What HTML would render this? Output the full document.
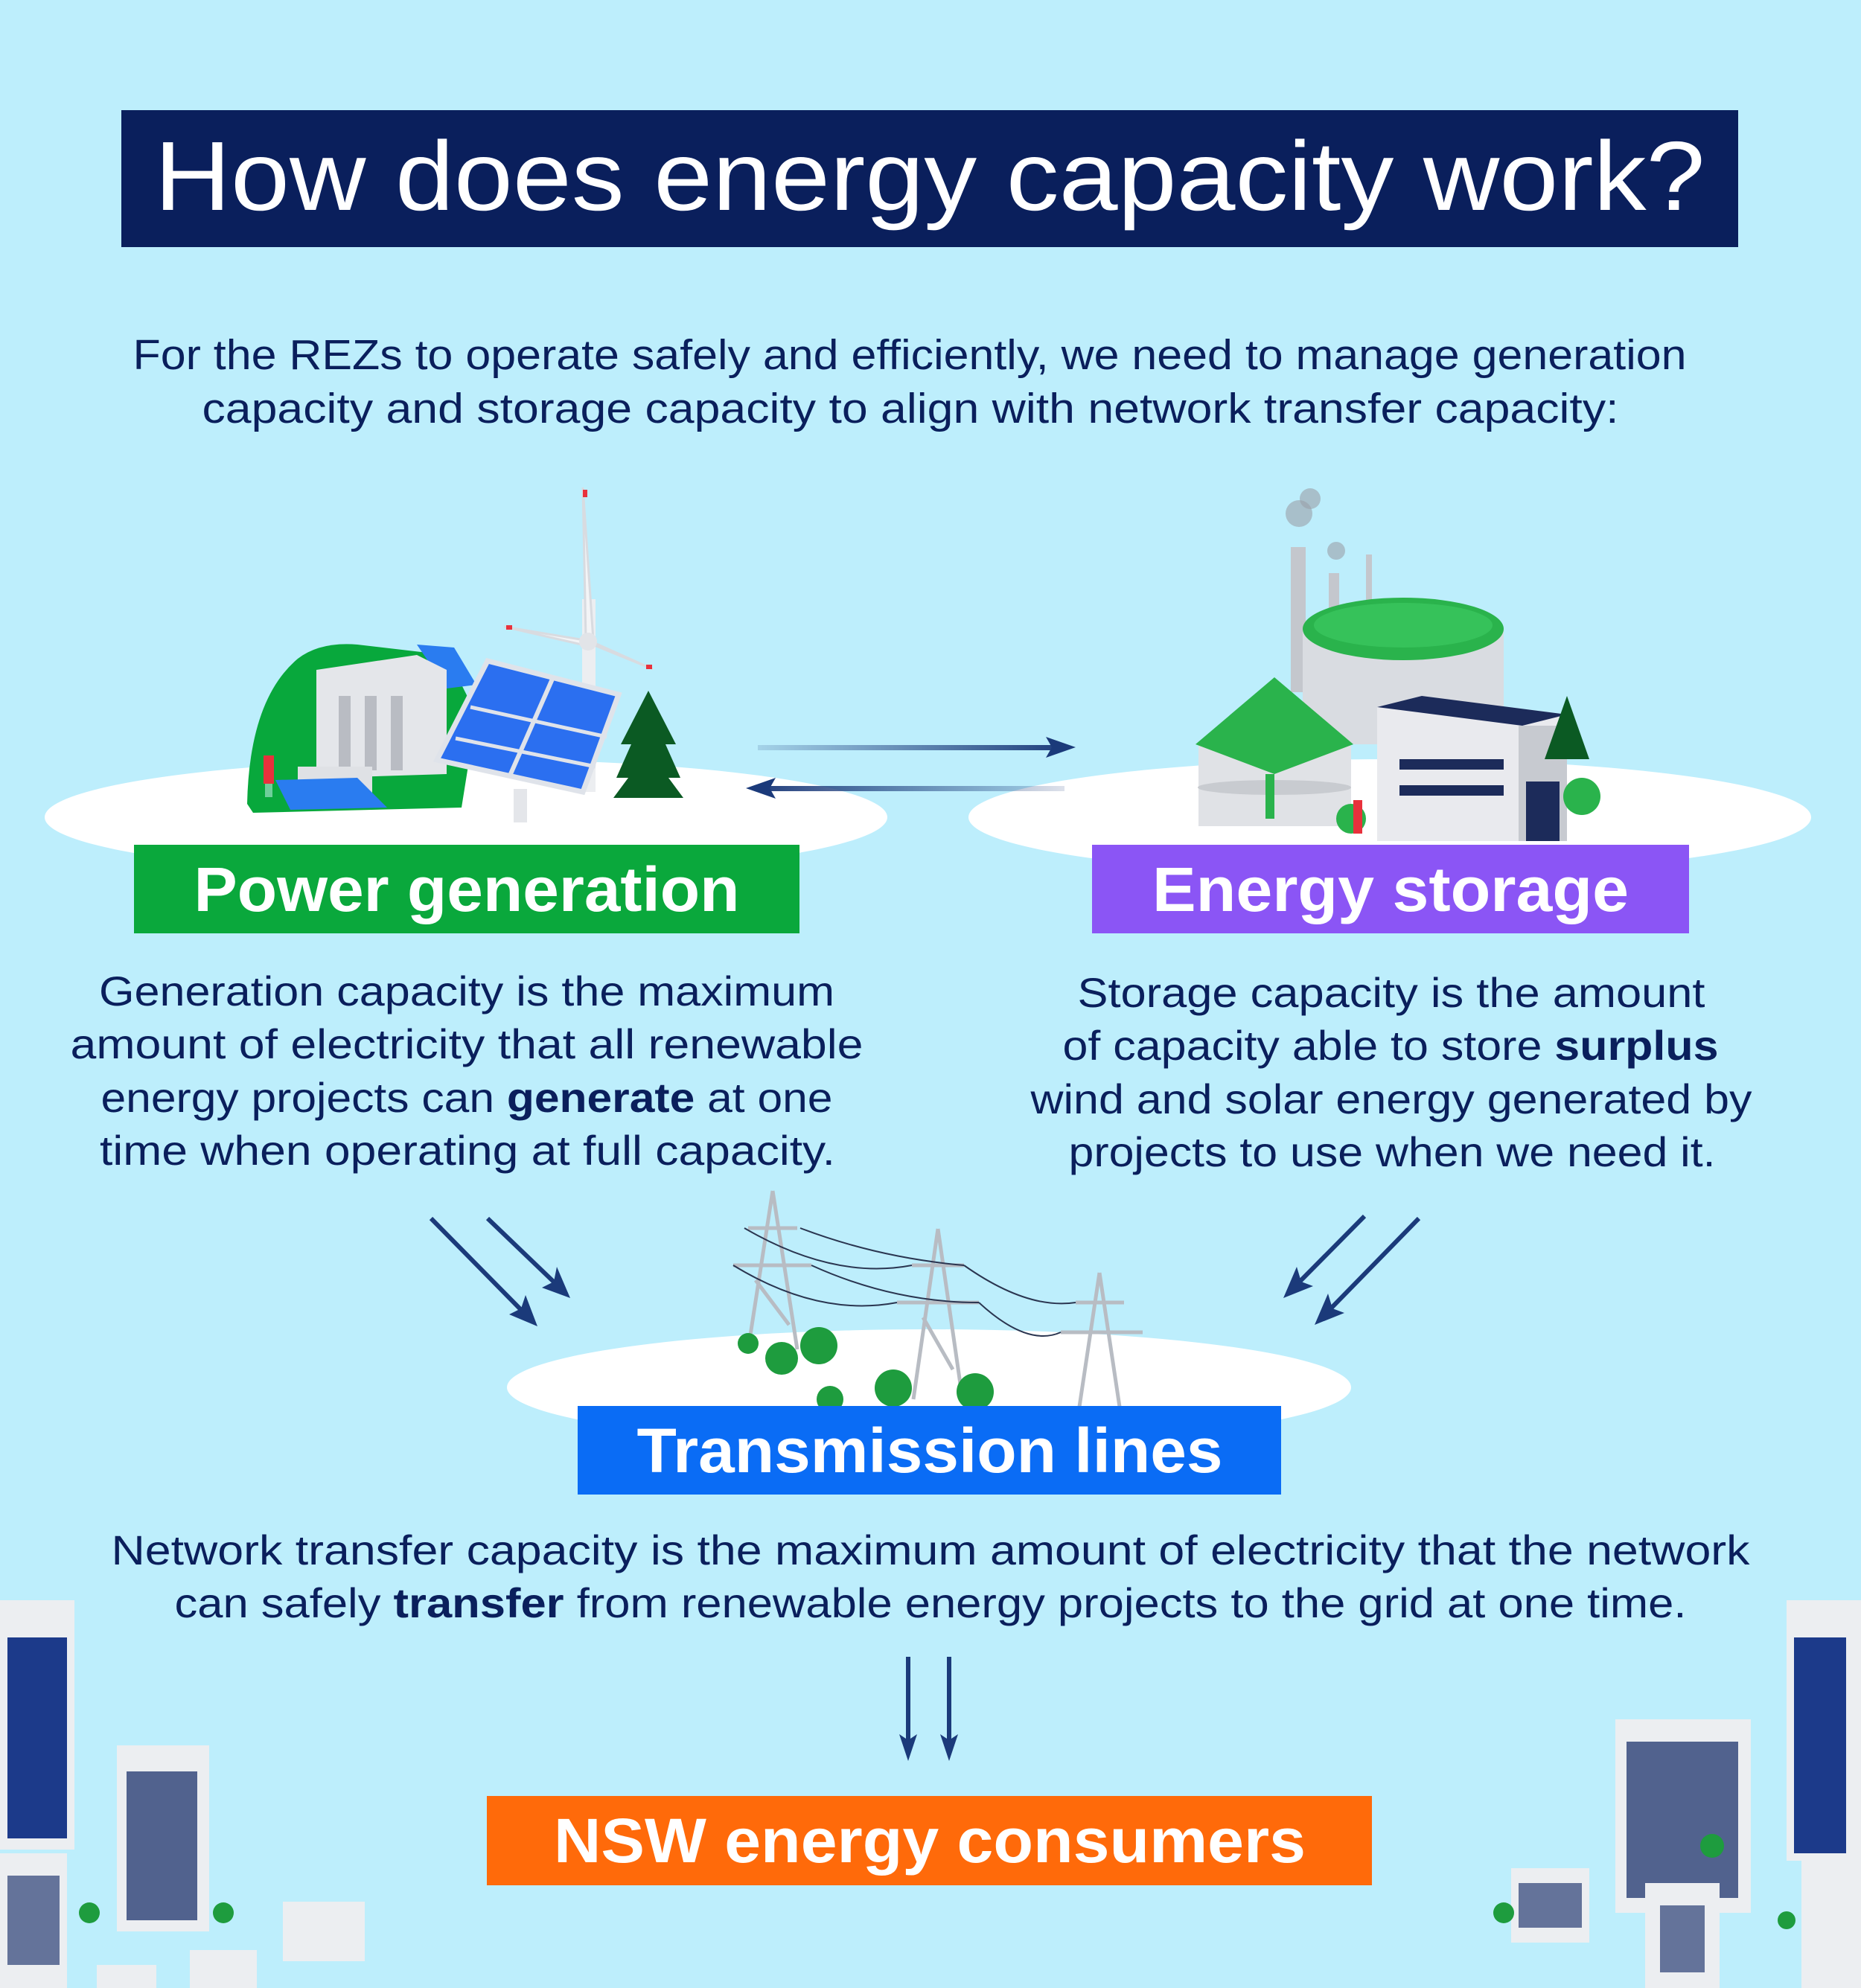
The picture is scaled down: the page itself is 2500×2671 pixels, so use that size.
<!DOCTYPE html>
<html><head><meta charset="utf-8"><style>
html,body{margin:0;padding:0;background:#bdeefc}
svg{display:block}
text{font-family:"Liberation Sans",sans-serif}
</style></head><body>
<svg width="2500" height="2671" viewBox="0 0 2500 2671" xmlns="http://www.w3.org/2000/svg">
<defs>
<linearGradient id="gr" gradientUnits="userSpaceOnUse" x1="1018" y1="0" x2="1440" y2="0"><stop offset="0" stop-color="#1b3a7a" stop-opacity="0.15"/><stop offset="1" stop-color="#1b3a7a"/></linearGradient>
<linearGradient id="gl" gradientUnits="userSpaceOnUse" x1="1430" y1="0" x2="1005" y2="0"><stop offset="0" stop-color="#1b3a7a" stop-opacity="0.15"/><stop offset="1" stop-color="#1b3a7a"/></linearGradient>
</defs>
<rect width="2500" height="2671" fill="#bdeefc"/>
<rect x="163" y="148" width="2172" height="184" fill="#0a1f5c"/>
<text x="1249" y="282" font-size="132" fill="#fff" text-anchor="middle" textLength="2083" lengthAdjust="spacingAndGlyphs">How does energy capacity work?</text>
<g font-size="57" fill="#0a1f5c" text-anchor="middle">
<text x="1222" y="496" textLength="2087" lengthAdjust="spacingAndGlyphs">For the REZs to operate safely and efficiently, we need to manage generation</text>
<text x="1223" y="568" textLength="1903" lengthAdjust="spacingAndGlyphs">capacity and storage capacity to align with network transfer capacity:</text>
</g>
<ellipse cx="626" cy="1098" rx="566" ry="78" fill="#fff"/>
<ellipse cx="1867" cy="1098" rx="566" ry="78" fill="#fff"/>
<ellipse cx="1248" cy="1864" rx="567" ry="78" fill="#fff"/>
<!-- power gen illustration -->
<path d="M332 1080 Q335 940 400 885 Q430 862 480 866 L600 880 L640 960 L620 1085 L340 1092 Z" fill="#08a83c"/>
<path d="M560 866 L610 870 L640 920 L600 925 Z" fill="#2a7cf0"/>
<path d="M425 900 L560 880 L600 900 L600 1040 L440 1045 L425 1035 Z" fill="#e4e6ea"/>
<rect x="455" y="935" width="16" height="100" fill="#b9bcc3"/><rect x="490" y="935" width="16" height="100" fill="#b9bcc3"/><rect x="525" y="935" width="16" height="100" fill="#b9bcc3"/>
<rect x="400" y="1030" width="100" height="40" fill="#dfe1e5"/>
<path d="M370 1048 L480 1045 L520 1085 L390 1088 Z" fill="#2a7cf0"/>
<rect x="354" y="1015" width="14" height="38" fill="#e8313c"/><rect x="356" y="1053" width="10" height="18" fill="#6ecf9a"/>
<line x1="791" y1="805" x2="791" y2="1064" stroke="#eceef1" stroke-width="18"/>
<path d="M787 860 L783 655 L797 860 Z M785 860 L677 842 L790 868 Z M790 860 L877 899 L796 866 Z" fill="#f3f4f6" stroke="#d8dbe0" stroke-width="3"/>
<circle cx="790" cy="862" r="12" fill="#e2e4e8"/>
<rect x="783" y="658" width="6" height="10" fill="#e8313c"/><rect x="680" y="840" width="8" height="6" fill="#e8313c"/><rect x="868" y="893" width="8" height="6" fill="#e8313c"/>
<polygon points="655,888 831,933 783,1064 587,1021" fill="#2b6ff0" stroke="#dfe3ea" stroke-width="7"/>
<line x1="743" y1="910" x2="685" y2="1042" stroke="#dfe3ea" stroke-width="6"/>
<line x1="632" y1="950" x2="815" y2="990" stroke="#dfe3ea" stroke-width="5"/>
<line x1="612" y1="992" x2="800" y2="1030" stroke="#dfe3ea" stroke-width="5"/>
<rect x="690" y="1060" width="18" height="45" fill="#e4e6ea"/>
<polygon points="871,928 908,1000 894,1000 914,1045 898,1045 918,1072 824,1072 844,1045 828,1045 848,1000 834,1000" fill="#0b5a23"/>
<!-- storage illustration -->
<rect x="1734" y="735" width="20" height="195" fill="#c4c7cd"/>
<rect x="1785" y="770" width="14" height="150" fill="#c4c7cd"/>
<rect x="1835" y="745" width="8" height="120" fill="#c4c7cd"/>
<circle cx="1745" cy="690" r="18" fill="#9aa0a8" opacity=".6"/><circle cx="1760" cy="670" r="14" fill="#9aa0a8" opacity=".6"/><circle cx="1795" cy="740" r="12" fill="#9aa0a8" opacity=".6"/>
<rect x="1750" y="845" width="270" height="155" fill="#d9dce1"/>
<ellipse cx="1885" cy="845" rx="135" ry="42" fill="#2ab34c"/>
<ellipse cx="1885" cy="840" rx="120" ry="30" fill="#36c25a"/>
<rect x="1610" y="1000" width="205" height="110" fill="#e0e2e6"/>
<polygon points="1712,910 1818,1000 1712,1040 1606,1000" fill="#2ab34c"/>
<ellipse cx="1712" cy="1058" rx="103" ry="10" fill="#c8cbd0"/>
<polygon points="1850,950 1910,935 2105,960 2105,1130 1850,1130" fill="#e9eaee"/>
<polygon points="1850,950 1910,935 2105,960 2045,975" fill="#1c2b5a"/>
<rect x="2040" y="975" width="65" height="155" fill="#c7cad0"/>
<rect x="2050" y="1050" width="45" height="80" fill="#1c2b5a"/>
<rect x="1880" y="1020" width="140" height="14" fill="#1c2b5a"/>
<rect x="1880" y="1055" width="140" height="14" fill="#1c2b5a"/>
<polygon points="2105,935 2135,1020 2075,1020" fill="#0b5a23"/>
<circle cx="2125" cy="1070" r="25" fill="#2ab34c"/><circle cx="1815" cy="1100" r="20" fill="#2ab34c"/>
<rect x="1700" y="1040" width="12" height="60" fill="#2ab34c"/><rect x="1818" y="1075" width="12" height="45" fill="#e8313c"/>
<!-- horizontal arrows -->
<rect x="1018" y="1001" width="410" height="7" fill="url(#gr)"/>
<polygon points="1445,1004 1405,990 1413,1004 1405,1018" fill="#1b3a7a"/>
<rect x="1018" y="1056" width="412" height="7" fill="url(#gl)"/>
<polygon points="1002,1059 1042,1045 1034,1059 1042,1073" fill="#1b3a7a"/>
<!-- labels -->
<rect x="180" y="1135" width="894" height="119" fill="#0aa83c"/>
<text x="627" y="1224" font-size="84" font-weight="bold" fill="#fff" text-anchor="middle" textLength="733" lengthAdjust="spacingAndGlyphs">Power generation</text>
<rect x="1467" y="1135" width="802" height="119" fill="#8b55f5"/>
<text x="1868" y="1224" font-size="84" font-weight="bold" fill="#fff" text-anchor="middle" textLength="640" lengthAdjust="spacingAndGlyphs">Energy storage</text>
<g font-size="56" fill="#0a1f5c" text-anchor="middle">
<text x="627" y="1351" textLength="988" lengthAdjust="spacingAndGlyphs">Generation capacity is the maximum</text>
<text x="627" y="1422" textLength="1065" lengthAdjust="spacingAndGlyphs">amount of electricity that all renewable</text>
<text x="627" y="1494" textLength="983" lengthAdjust="spacingAndGlyphs">energy projects can <tspan font-weight="bold">generate</tspan> at one</text>
<text x="628" y="1565" textLength="988" lengthAdjust="spacingAndGlyphs">time when operating at full capacity.</text>
<text x="1869" y="1353" textLength="843" lengthAdjust="spacingAndGlyphs">Storage capacity is the amount</text>
<text x="1868" y="1424" textLength="881" lengthAdjust="spacingAndGlyphs">of capacity able to store <tspan font-weight="bold">surplus</tspan></text>
<text x="1869" y="1496" textLength="969" lengthAdjust="spacingAndGlyphs">wind and solar energy generated by</text>
<text x="1870" y="1567" textLength="869" lengthAdjust="spacingAndGlyphs">projects to use when we need it.</text>
</g>
<g stroke="#1b3a7a" stroke-width="6" fill="none">
<line x1="579" y1="1637" x2="708" y2="1768"/>
<line x1="655" y1="1637" x2="752" y2="1730"/>
<line x1="1833" y1="1634" x2="1738" y2="1730"/>
<line x1="1906" y1="1637" x2="1780" y2="1766"/>
<line x1="1220" y1="2226" x2="1220" y2="2350"/>
<line x1="1275" y1="2226" x2="1275" y2="2350"/>
</g>
<g fill="#1b3a7a">
<polygon points="722,1782 684,1766 700,1758 706,1740"/>
<polygon points="766,1744 728,1730 744,1722 748,1702"/>
<polygon points="1724,1744 1742,1702 1748,1722 1764,1728"/>
<polygon points="1766,1780 1784,1738 1790,1758 1806,1764"/>
<polygon points="1220,2366 1208,2330 1220,2338 1232,2330"/>
<polygon points="1275,2366 1263,2330 1275,2338 1287,2330"/>
</g>
<g stroke="#b8bcc3" stroke-width="5" fill="none">
<path d="M1038 1600 L1005 1813 M1038 1600 L1071 1813 M1005 1650 L1071 1650 M985 1700 L1090 1700 M1015 1720 L1060 1780"/>
<path d="M1260 1651 L1227 1880 M1260 1651 L1293 1880 M1225 1700 L1295 1700 M1205 1750 L1315 1750 M1240 1770 L1280 1840"/>
<path d="M1477 1710 L1450 1890 M1477 1710 L1504 1890 M1445 1750 L1510 1750 M1425 1790 L1535 1790"/>
</g>
<g stroke="#2a3550" stroke-width="2" fill="none">
<path d="M1000 1650 Q1120 1720 1225 1700"/><path d="M1075 1650 Q1180 1690 1295 1700"/><path d="M985 1700 Q1100 1770 1205 1750"/>
<path d="M1295 1700 Q1380 1760 1445 1750"/><path d="M1315 1750 Q1380 1810 1425 1790"/><path d="M1090 1700 Q1200 1750 1315 1750"/>
</g>
<g fill="#1e9c3e"><circle cx="1050" cy="1825" r="22"/><circle cx="1100" cy="1808" r="25"/><circle cx="1200" cy="1865" r="25"/><circle cx="1310" cy="1870" r="25"/><circle cx="1115" cy="1880" r="18"/><circle cx="1005" cy="1805" r="14"/></g>
<rect x="776" y="1889" width="945" height="119" fill="#0a6cf5"/>
<text x="1249" y="1978" font-size="84" font-weight="bold" fill="#fff" text-anchor="middle" textLength="787" lengthAdjust="spacingAndGlyphs">Transmission lines</text>
<g font-size="56" fill="#0a1f5c" text-anchor="middle">
<text x="1250" y="2102" textLength="2201" lengthAdjust="spacingAndGlyphs">Network transfer capacity is the maximum amount of electricity that the network</text>
<text x="1250" y="2173" textLength="2031" lengthAdjust="spacingAndGlyphs">can safely <tspan font-weight="bold">transfer</tspan> from renewable energy projects to the grid at one time.</text>
</g>
<g>
<rect x="0" y="2150" width="100" height="335" fill="#eceef1"/><rect x="10" y="2200" width="80" height="270" fill="#1c3a8a"/>
<rect x="157" y="2345" width="124" height="250" fill="#eceef1"/><rect x="170" y="2380" width="95" height="200" fill="#2b3e75" opacity=".8"/>
<rect x="0" y="2490" width="90" height="181" fill="#eceef1"/><rect x="10" y="2520" width="70" height="120" fill="#2b3e75" opacity=".7"/>
<rect x="380" y="2555" width="110" height="80" fill="#eceef1"/>
<rect x="255" y="2620" width="90" height="51" fill="#eceef1"/><rect x="130" y="2640" width="80" height="31" fill="#eceef1"/>
<rect x="2400" y="2150" width="100" height="350" fill="#eceef1"/><rect x="2410" y="2200" width="70" height="290" fill="#1c3a8a"/>
<rect x="2170" y="2310" width="182" height="260" fill="#eceef1"/><rect x="2185" y="2340" width="150" height="210" fill="#2b3e75" opacity=".8"/>
<rect x="2030" y="2510" width="105" height="100" fill="#eceef1"/><rect x="2040" y="2530" width="85" height="60" fill="#2b3e75" opacity=".7"/>
<rect x="2210" y="2530" width="100" height="141" fill="#eceef1"/><rect x="2230" y="2560" width="60" height="90" fill="#2b3e75" opacity=".7"/>
<rect x="2420" y="2490" width="80" height="181" fill="#eceef1"/>
<g fill="#1e9c3e"><circle cx="120" cy="2570" r="14"/><circle cx="300" cy="2570" r="14"/><circle cx="2300" cy="2480" r="16"/><circle cx="2020" cy="2570" r="14"/><circle cx="2400" cy="2580" r="12"/></g>
</g>
<rect x="654" y="2413" width="1189" height="120" fill="#ff6a0a"/>
<text x="1249" y="2502" font-size="84" font-weight="bold" fill="#fff" text-anchor="middle" textLength="1010" lengthAdjust="spacingAndGlyphs">NSW energy consumers</text>
</svg>
</body></html>
